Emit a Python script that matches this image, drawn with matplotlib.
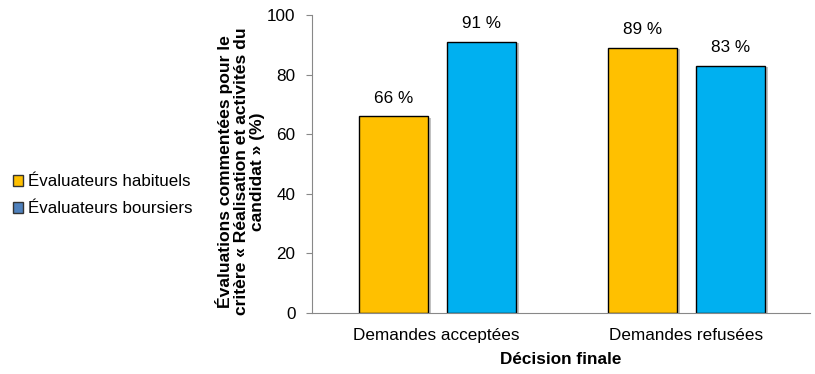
import numpy as np
import matplotlib
matplotlib.use("Agg")
import matplotlib.pyplot as plt
import matplotlib.patheffects as pe
from matplotlib.patches import Patch

plt.rcParams['font.family'] = ['Liberation Sans', 'DejaVu Sans']

categories = ["Demandes acceptées", "Demandes refusées"]
habituels = [66, 89]
boursiers = [91, 83]
series_names = ["Évaluateurs habituels", "Évaluateurs boursiers"]

fig = plt.figure(figsize=(8.15, 3.74), dpi=100)
ax = fig.add_axes([0.383, 0.163, 0.611, 0.797])

x = np.arange(len(categories))
w = 0.275
fs = 12.3
shadow = [pe.SimplePatchShadow(offset=(2.5, -1), shadow_rgbFace='#999999', alpha=0.6), pe.Normal()]
b1 = ax.bar(x - 0.173, habituels, w, color='#FFC000', edgecolor='black', linewidth=1, path_effects=shadow)
b2 = ax.bar(x + 0.18, boursiers, w, color='#00B0F0', edgecolor='black', linewidth=1, path_effects=shadow)

for bars, vals in ((b1, habituels), (b2, boursiers)):
    for r, v in zip(bars, vals):
        ax.text(r.get_x() + r.get_width() / 2, v + 3.5, f"{v} %", ha='center', va='bottom', fontsize=fs)

ax.set_xlim(-0.5, 1.5)
ax.set_ylim(0, 100)
ax.set_yticks(range(0, 101, 20))
ax.set_xticks(x)
ax.set_xticklabels(categories, fontsize=fs)
ax.tick_params(axis='y', labelsize=fs, length=4, color='#888888', pad=8)
ax.tick_params(axis='x', length=0, pad=11)
for s in ('top', 'right'):
    ax.spines[s].set_visible(False)
ax.spines['left'].set_color('#888888')
ax.spines['bottom'].set_color('#888888')

ax.set_xlabel("Décision finale", fontsize=fs, fontweight='bold', labelpad=6)
ax.set_ylabel("Évaluations commentées pour le\ncritère « Réalisation et activités du\ncandidat » (%)",
              fontsize=12.6, fontweight='bold', linespacing=1.08)
ax.yaxis.set_label_coords(-0.094, 0.475)

handles = [Patch(facecolor='#FFC000', edgecolor='#333333'),
           Patch(facecolor='#4F81BD', edgecolor='#333333')]
fig.legend(handles, series_names, loc='center left', bbox_to_anchor=(0.001, 0.478),
           frameon=False, fontsize=12.2, handlelength=0.6, handleheight=0.6,
           handletextpad=0.3, labelspacing=0.7, borderaxespad=0.3)

fig.savefig("out.png", dpi=100)
